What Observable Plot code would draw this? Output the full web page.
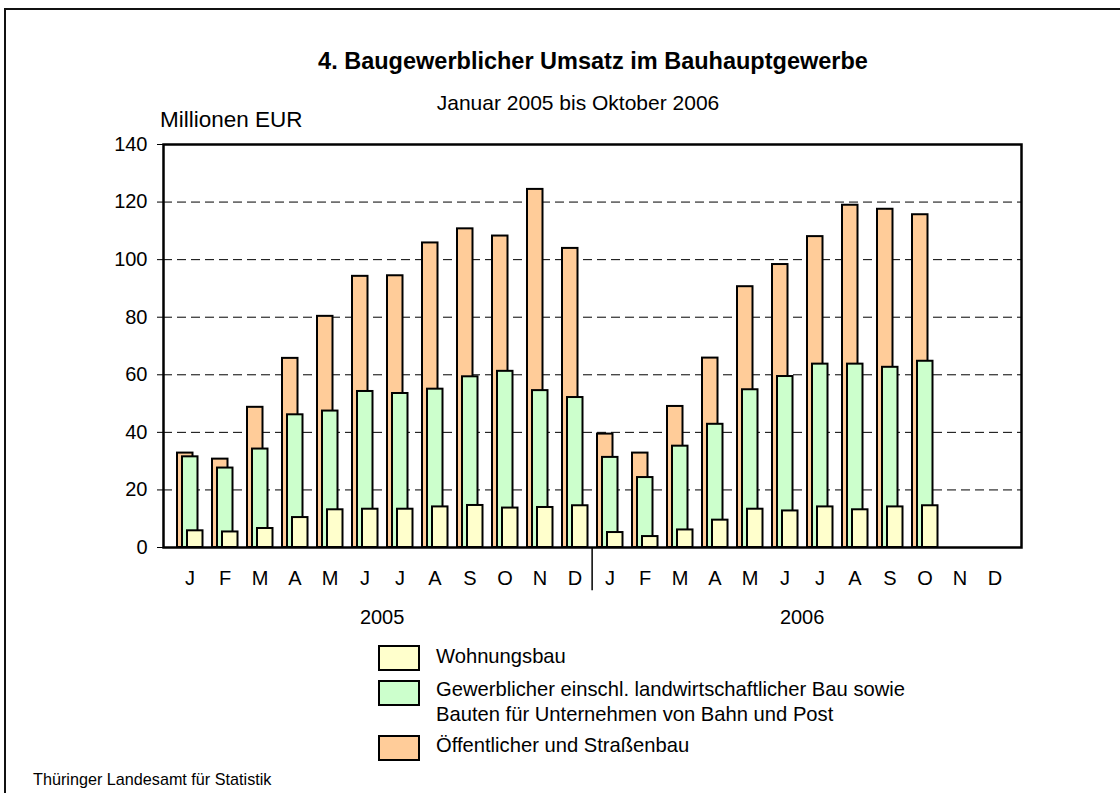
<!DOCTYPE html>
<html>
<head>
<meta charset="utf-8">
<script src="https://cdn.jsdelivr.net/npm/d3@7"></script>
<script src="https://cdn.jsdelivr.net/npm/@observablehq/plot@0.6"></script>
<style>
  html, body { margin: 0; padding: 0; background: #fff; }
  #page { position: relative; width: 1120px; height: 793px; overflow: hidden; background: #fff;
          font-family: "Liberation Sans", Arial, sans-serif; color: #000; }
  #outer { position: absolute; left: 4px; top: 8px; width: 1200px; height: 900px; border: 2px solid #111; box-sizing: border-box; }
  .t { position: absolute; white-space: nowrap; line-height: 1; }
  #chart { position: absolute; left: 0; top: 0; }
  .box { position: absolute; width: 38px; height: 22px; border: 2px solid #000; }
</style>
</head>
<body>
<div id="page">
  <div id="outer"></div>
  <div id="chart"></div>
  <div class="t" id="title" style="font-weight:bold;font-size:23.5px;left:0;width:1186px;text-align:center;top:50px;">4. Baugewerblicher Umsatz im Bauhauptgewerbe</div>
  <div class="t" id="subtitle" style="font-size:21px;left:0;width:1156px;text-align:center;top:92px;">Januar 2005 bis Oktober 2006</div>
  <div class="t" style="font-size:22.5px;left:160px;top:109px;">Millionen EUR</div>
  <div id="legend"></div>
  <div class="t" style="font-size:16.2px;left:33px;top:771px;">Thüringer Landesamt für Statistik</div>
</div>
<script>
// ---- data ----
const years = ["2005", "2006"];
const monthLetters = ["J","F","M","A","M","J","J","A","S","O","N","D"];
const periods = years.flatMap(y => d3.range(1, 13).map(m => `${y}-${String(m).padStart(2, "0")}`));
// values (Mio. EUR), Jan 2005 – Oct 2006
const wohnungsbau = [5.8, 5.4, 6.6, 10.4, 13.1, 13.3, 13.3, 14.1, 14.6, 13.7, 13.9, 14.5,
                     5.2, 3.8, 6.1, 9.5, 13.3, 12.7, 14.1, 13.1, 14.1, 14.5];
const gewerblich  = [31.5, 27.6, 34.2, 46.1, 47.4, 54.2, 53.5, 55.0, 59.3, 61.2, 54.5, 52.1,
                     31.3, 24.3, 35.2, 42.8, 54.8, 59.4, 63.7, 63.7, 62.6, 64.7];
const oeffentlich = [32.8, 30.7, 48.7, 65.7, 80.3, 94.2, 94.4, 105.8, 110.7, 108.2, 124.4, 103.9,
                     39.4, 32.8, 49.0, 65.8, 90.6, 98.3, 108.0, 118.9, 117.5, 115.6];
const yTicks = [0, 20, 40, 60, 80, 100, 120, 140];
const seriesNames = ["Wohnungsbau",
  "Gewerblicher einschl. landwirtschaftlicher Bau sowie\nBauten für Unternehmen von Bahn und Post",
  "Öffentlicher und Straßenbau"];
const seriesColors = ["#FFFFCC", "#CCFFCC", "#FFCC99"];

const rows = (vals) => vals.map((v, i) => ({period: periods[i], value: v}));
const monthOf = p => monthLetters[+p.slice(5) - 1];

const chart = Plot.plot({
  width: 1120,
  height: 640,
  marginTop: 144,
  marginBottom: 93,
  marginLeft: 163,
  marginRight: 99,
  style: {fontFamily: "'Liberation Sans', Arial, sans-serif", background: "transparent", color: "#000"},
  x: {type: "band", domain: periods, padding: 0},
  y: {domain: [0, 140]},
  marks: [
    Plot.ruleY(yTicks.filter(d => d > 0 && d < 140), {stroke: "#000", strokeWidth: 1, strokeDasharray: "9,5"}),
    Plot.barY(rows(oeffentlich), {x: "period", y: "value", fill: seriesColors[2], stroke: "#000", strokeWidth: 2, insetLeft: 5, insetRight: 14.5}),
    Plot.barY(rows(gewerblich), {x: "period", y: "value", fill: seriesColors[1], stroke: "#000", strokeWidth: 2, insetLeft: 10, insetRight: 9.5}),
    Plot.barY(rows(wohnungsbau), {x: "period", y: "value", fill: seriesColors[0], stroke: "#000", strokeWidth: 2, insetLeft: 15, insetRight: 4.5}),
    Plot.frame({stroke: "#000", strokeWidth: 2.5}),
    Plot.axisY({ticks: yTicks, tickSize: 6, tickPadding: 10, label: null, fontSize: 20, stroke: "#000"}),
    Plot.axisX({tickSize: 0, tickPadding: 23, tickFormat: monthOf, label: null, fontSize: 20}),
    Plot.ruleX(["2006-01"], {x: d => d, y1: 0, y2: -15, dx: -17.875, stroke: "#000", strokeWidth: 1.5}),
    Plot.text(["2005-07", "2006-07"], {x: d => d, y: -24.5, dx: -17.875, text: d => d.slice(0, 4), fontSize: 20})
  ]
});
document.getElementById("chart").appendChild(chart);

// legend
const legend = document.getElementById("legend");
const legendRows = [
  {top: 645, textTop: 648, name: seriesNames[0], color: seriesColors[0]},
  {top: 680, textTop: 681, name: seriesNames[1], color: seriesColors[1]},
  {top: 735, textTop: 737, name: seriesNames[2], color: seriesColors[2]}
];
for (const r of legendRows) {
  const b = document.createElement("div");
  b.className = "box";
  b.style.left = "378px"; b.style.top = r.top + "px"; b.style.background = r.color;
  legend.appendChild(b);
  const t = document.createElement("div");
  t.className = "t";
  t.style.left = "436px"; t.style.top = r.textTop + "px"; t.style.fontSize = "20.2px";
  t.style.lineHeight = "25px"; t.style.marginTop = "-4px";
  t.innerHTML = r.name.replace("\n", "<br>");
  legend.appendChild(t);
}
</script>
</body>
</html>
